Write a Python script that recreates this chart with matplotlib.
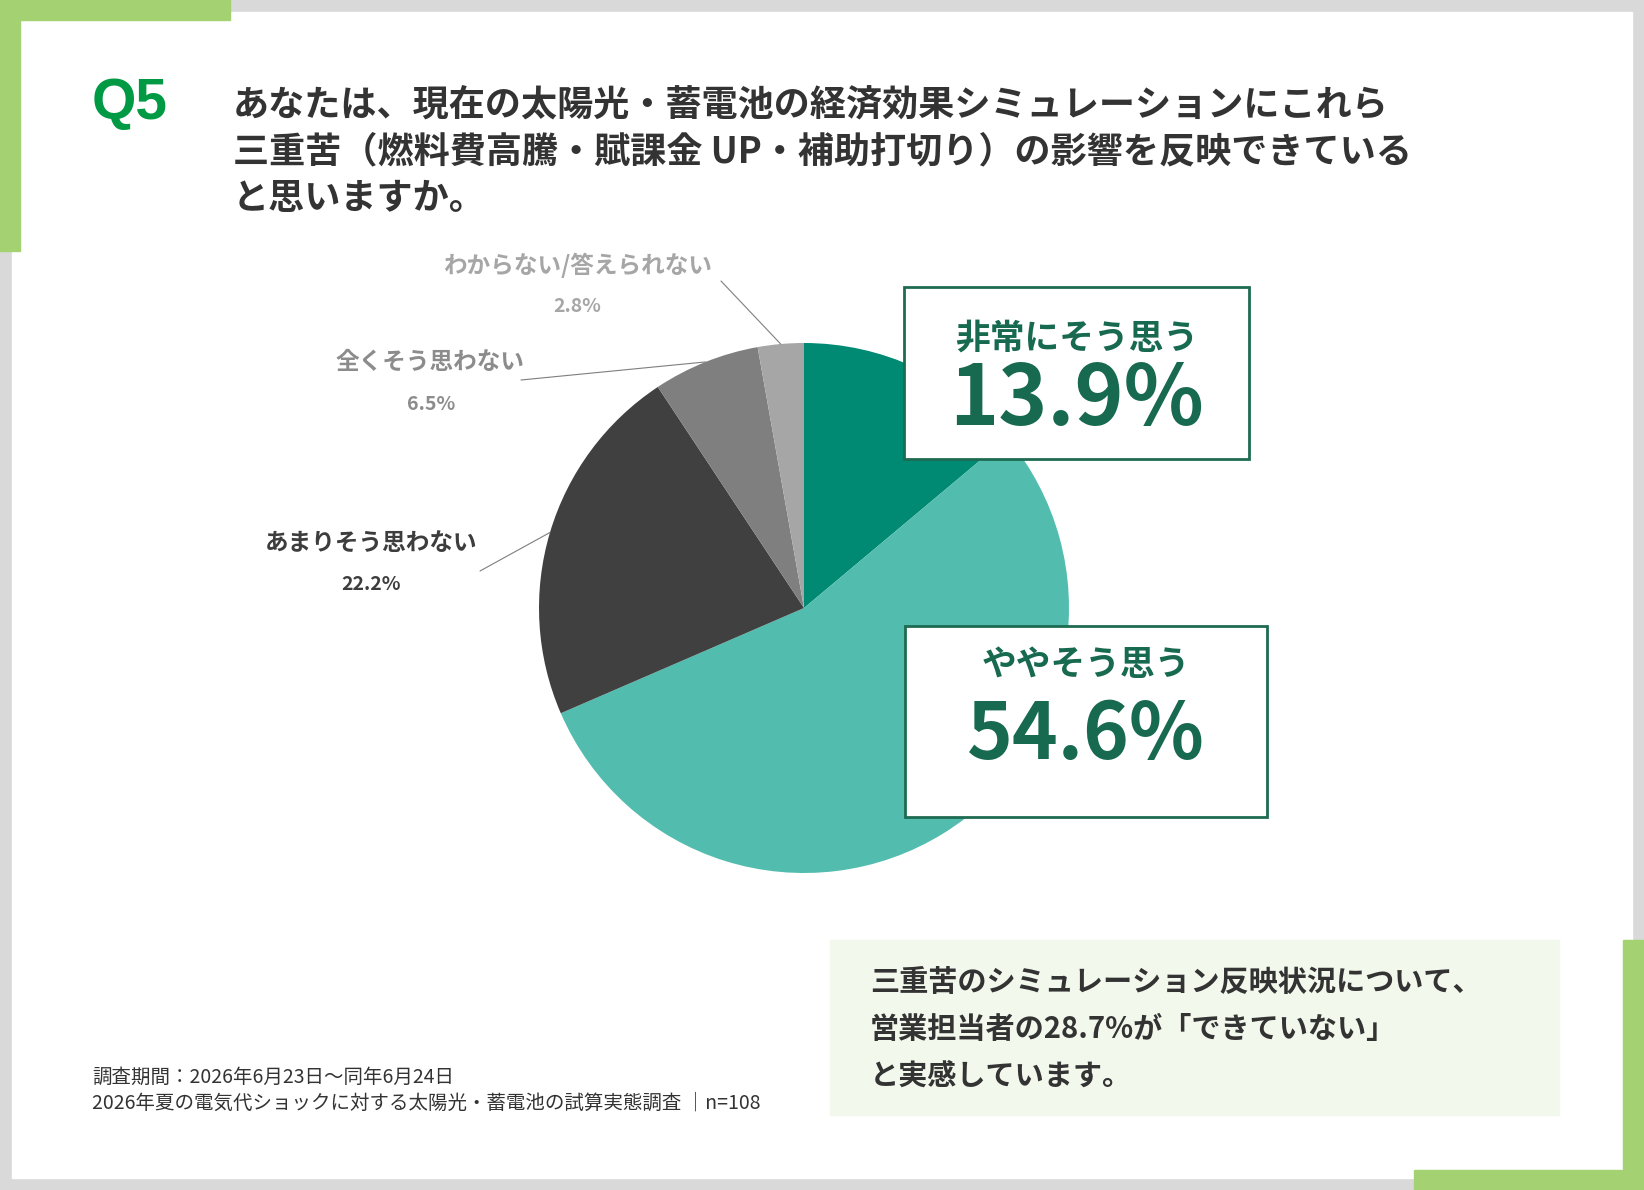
import numpy as np
import matplotlib.pyplot as plt
from matplotlib.patches import Rectangle

plt.rcParams['font.family'] = ['Noto Sans CJK JP', 'DejaVu Sans']

# Datos
categorias = ['非常にそう思う', 'ややそう思う', 'あまりそう思わない', '全くそう思わない', 'わからない/答えられない']
valores = [13.9, 54.6, 22.2, 6.5, 2.8]
colores = ['#008a73', '#52bdaf', '#404040', '#7f7f7f', '#a6a6a6']

titulo = ['あなたは、現在の太陽光・蓄電池の経済効果シミュレーションにこれら',
          '三重苦（燃料費高騰・賦課金 UP・補助打切り）の影響を反映できている',
          'と思いますか。']
resumen = ['三重苦のシミュレーション反映状況について、',
           '営業担当者の28.7%が「できていない」',
           'と実感しています。']
notas = ['調査期間：2026年6月23日～同年6月24日',
         '2026年夏の電気代ショックに対する太陽光・蓄電池の試算実態調査 ｜n=108']

W, H = 1644, 1190
fig = plt.figure(figsize=(W / 100, H / 100), dpi=100)

# fondo / marco (coordenadas en pixeles, y hacia abajo)
bg = fig.add_axes([0, 0, 1, 1], zorder=0)
bg.set_xlim(0, W)
bg.set_ylim(H, 0)
bg.axis('off')
verde = '#a4d272'
bg.add_patch(Rectangle((0, 0), W, H, color='#d9d9d9'))
bg.add_patch(Rectangle((12, 12), 1620, 1166, color='white'))
bg.add_patch(Rectangle((0, 0), 230, 20, color=verde))
bg.add_patch(Rectangle((0, 0), 20, 251, color=verde))
bg.add_patch(Rectangle((1623, 940), 21, 250, color=verde))
bg.add_patch(Rectangle((1414, 1170), 230, 20, color=verde))

bg.text(92, 104, 'Q5', fontsize=41, fontweight='bold', color='#009a44',
        family=['Liberation Sans', 'DejaVu Sans'], ha='left', va='center')
for i, linea in enumerate(titulo):
    bg.text(233, 105 + 47 * i, linea, fontsize=26, fontweight='bold',
            color='#333333', ha='left', va='center')

bg.add_patch(Rectangle((830, 940), 729, 175, color='#f2f8ec'))
for i, linea in enumerate(resumen):
    bg.text(870, 982 + 47 * i, linea, fontsize=21, fontweight='bold',
            color='#333333', ha='left', va='center')

for i, linea in enumerate(notas):
    bg.text(92, 1077 + 26 * i, linea, fontsize=14, color='#333333',
            ha='left', va='center')

# Pastel
cx, cy, r = 804, 608, 265
ax = fig.add_axes([(cx - r) / W, (H - cy - r) / H, 2 * r / W, 2 * r / H], zorder=1)
wedges, _ = ax.pie(valores, colors=colores, startangle=90, counterclock=False,
                   wedgeprops=dict(linewidth=0))
ax.set_xlim(-1, 1)
ax.set_ylim(-1, 1)
ax.axis('off')

# capa superior
top = fig.add_axes([0, 0, 1, 1], zorder=2)
top.set_xlim(0, W)
top.set_ylim(H, 0)
top.axis('off')
top.patch.set_alpha(0)

# etiquetas de las porciones pequeñas con líneas guía
etiquetas_pos = {2: ((371, 543), (371, 585), (480, 571)),
                 3: ((430, 362), (431, 404), (521, 380)),
                 4: ((578, 265), (577, 307), (721, 281))}
colores_txt = {2: '#3d3d3d', 3: '#8c8c8c', 4: '#a6a6a6'}
for i, (p_nom, p_val, p_lin) in etiquetas_pos.items():
    w = wedges[i]
    ang = np.deg2rad((w.theta1 + w.theta2) / 2)
    ax.annotate('', xy=(np.cos(ang), np.sin(ang)), xycoords='data',
                xytext=p_lin, textcoords=top.transData,
                arrowprops=dict(arrowstyle='-', color='#7f7f7f', lw=0.8,
                                shrinkA=0, shrinkB=0))
    top.text(p_nom[0], p_nom[1], categorias[i], fontsize=17, fontweight='bold',
             color=colores_txt[i], ha='center', va='center')
    top.text(p_val[0], p_val[1], f'{valores[i]:.1f}%', fontsize=14,
             fontweight='bold', color=colores_txt[i], ha='center', va='center')

# cuadros destacados
verde_osc = '#17694f'
cuadros = [((904, 287, 345, 172), 338, 400, 60),
           ((905, 626, 362, 191), 665, 736, 56)]
for i, ((x0, y0, bw, bh), y_nom, y_val, fs) in enumerate(cuadros):
    top.add_patch(Rectangle((x0, y0), bw, bh, facecolor='white',
                            edgecolor='#1e6b52', lw=2))
    xc = x0 + bw / 2
    top.text(xc, y_nom, categorias[i], fontsize=25, fontweight='bold',
             color=verde_osc, ha='center', va='center')
    top.text(xc, y_val, f'{valores[i]:.1f}%', fontsize=fs, fontweight='bold',
             color=verde_osc, ha='center', va='center')

plt.savefig('out.png', dpi=100)
